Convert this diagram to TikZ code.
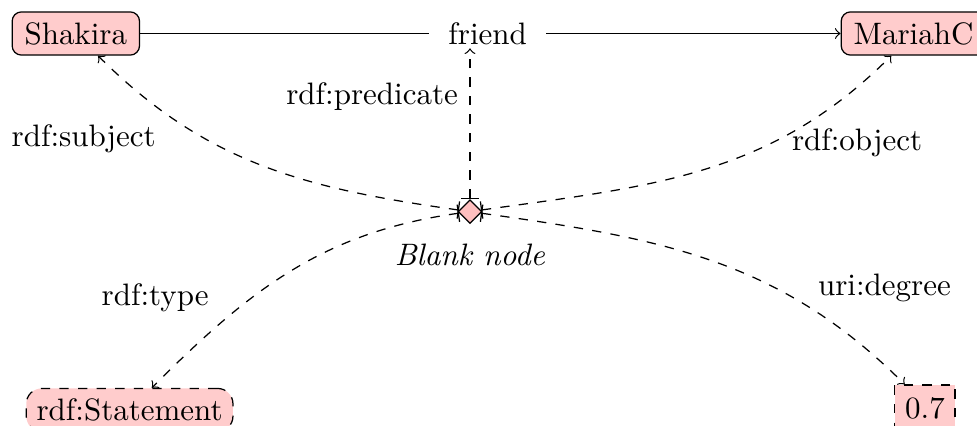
\documentclass[tikz,border=0pt]{standalone}
\usepackage{amsmath,amssymb}
\usepackage{xcolor}
\usepackage{tikz}
\usetikzlibrary{shapes.geometric,positioning}

\begin{document}
\begin{tikzpicture}[
    res/.style={draw, rounded corners=3pt, fill=red!20, inner xsep=4pt},
    lit/.style={draw, dashed, fill=red!20},
    blank/.style={diamond, draw, fill=red!25, inner sep=0pt, minimum size=0.27cm},
    link/.style={dashed, |->}
]

    % Frame (picture is cut at right and bottom)
    \useasboundingbox (0,0) rectangle (11.08,4.82);

    % Resources
    \node[res] (Shakira) at (0.86,4.44) {Shakira};
    \node[inner xsep=6pt, inner ysep=1pt] (friend) at (5.53,4.44) {friend};
    \node[res] (MariahC) at (10.36,4.44) {MariahC};

    % Blank node
    \node[blank] (Blank) at (5.33,2.42) {};
    \node[below=0.1cm of Blank] (BlankLabel) {\textit{Blank node}};

    % Literals
    \node[lit, rounded corners=5pt] (Statement) at (1.47,0.17) {rdf:Statement};
    \node[lit, inner ysep=4pt] (Value) at (10.49,0.19) {0.7};

    % Triple
    \draw (Shakira) -- (friend);
    \draw[->] (friend) -- (MariahC);

    % Reification links
    \draw[link] (Blank) -- (Blank |- friend.south);
    \draw[link] (Blank) to[out=172, in=-45] (Shakira);
    \draw[link] (Blank) to[out=8, in=-135] (MariahC);
    \draw[link] (Blank) to[out=188, in=45] (Statement);
    \draw[link] (Blank) to[out=-8, in=135] ([xshift=-0.23cm]Value.north);

    % Link labels
    \node (predicate) at (4.22,3.72) {rdf:predicate};
    \node (subject) at (0.95,3.25) {rdf:subject};
    \node (object) at (9.72,3.20) {rdf:object};
    \node (type) at (1.76,1.44) {rdf:type};
    \node (degree) at (10.03,1.56) {uri:degree};

\end{tikzpicture}
\end{document}
